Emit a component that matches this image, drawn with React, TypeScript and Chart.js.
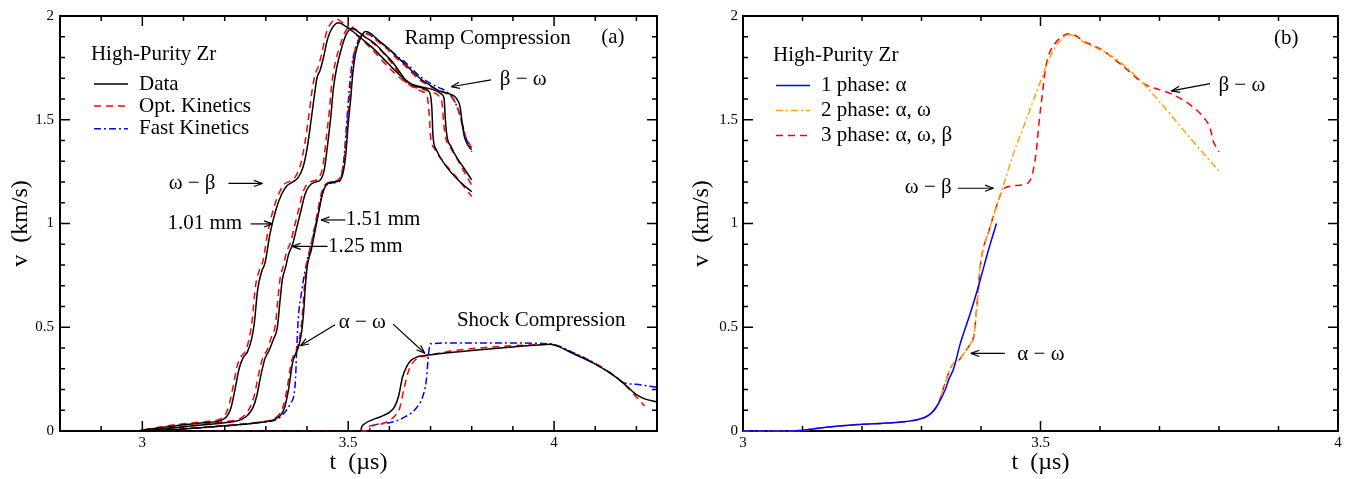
import React, { useEffect, useRef } from "react";
import { Chart, registerables } from "chart.js";
Chart.register(...registerables);

type P = [number, number];

// ---------- Panel (a): ramp + shock compression ----------
const ramp101Data: P[] = [[2.8,0],[2.98,0],[3.02,0.01],[3.06,0.02],[3.1,0.03],[3.15,0.04],[3.19,0.05],[3.205,0.07],[3.215,0.11],[3.225,0.2],[3.235,0.3],[3.245,0.355],[3.255,0.38],[3.265,0.44],[3.272,0.52],[3.28,0.68],[3.29,0.77],[3.298,0.81],[3.31,0.95],[3.325,1.07],[3.338,1.14],[3.35,1.18],[3.365,1.2],[3.378,1.22],[3.39,1.27],[3.4,1.36],[3.41,1.5],[3.418,1.62],[3.424,1.7],[3.432,1.74],[3.44,1.8],[3.45,1.89],[3.462,1.945],[3.477,1.968],[3.49,1.955],[3.505,1.935],[3.53,1.895],[3.56,1.845],[3.59,1.785],[3.62,1.725],[3.64,1.69],[3.66,1.665],[3.685,1.65],[3.698,1.63],[3.703,1.56],[3.706,1.42],[3.714,1.355],[3.739,1.273],[3.772,1.2],[3.8,1.153]];
const ramp101Opt: P[] = [[2.8,0],[2.98,0],[3.02,0.012],[3.06,0.025],[3.1,0.035],[3.15,0.045],[3.185,0.055],[3.2,0.075],[3.21,0.12],[3.22,0.21],[3.23,0.31],[3.24,0.36],[3.25,0.385],[3.26,0.45],[3.267,0.54],[3.275,0.7],[3.285,0.78],[3.293,0.82],[3.305,0.96],[3.32,1.08],[3.333,1.15],[3.345,1.19],[3.36,1.205],[3.373,1.23],[3.385,1.29],[3.395,1.39],[3.405,1.53],[3.413,1.65],[3.42,1.72],[3.428,1.76],[3.437,1.83],[3.447,1.92],[3.46,1.97],[3.472,1.985],[3.485,1.97],[3.5,1.945],[3.525,1.9],[3.555,1.845],[3.585,1.78],[3.615,1.72],[3.64,1.68],[3.66,1.655],[3.68,1.635],[3.692,1.61],[3.697,1.52],[3.7,1.42],[3.71,1.36],[3.73,1.3],[3.76,1.23],[3.8,1.13]];
const ramp125Data: P[] = [[2.8,0],[2.99,0],[3.05,0.01],[3.1,0.02],[3.15,0.03],[3.2,0.04],[3.24,0.055],[3.255,0.075],[3.268,0.11],[3.278,0.17],[3.287,0.26],[3.298,0.35],[3.307,0.385],[3.318,0.44],[3.328,0.5],[3.334,0.62],[3.34,0.73],[3.348,0.79],[3.355,0.85],[3.365,0.9],[3.375,0.98],[3.385,1.06],[3.395,1.14],[3.405,1.18],[3.42,1.2],[3.432,1.21],[3.442,1.26],[3.45,1.38],[3.458,1.52],[3.464,1.65],[3.472,1.75],[3.483,1.84],[3.495,1.91],[3.508,1.94],[3.52,1.93],[3.54,1.9],[3.566,1.865],[3.59,1.815],[3.607,1.78],[3.625,1.73],[3.64,1.69],[3.655,1.67],[3.673,1.66],[3.706,1.645],[3.726,1.625],[3.733,1.6],[3.736,1.5],[3.74,1.42],[3.75,1.37],[3.763,1.32],[3.78,1.27],[3.8,1.21]];
const ramp125Opt: P[] = [[2.8,0],[2.99,0],[3.05,0.012],[3.1,0.022],[3.15,0.032],[3.2,0.045],[3.235,0.058],[3.25,0.08],[3.263,0.12],[3.273,0.18],[3.282,0.27],[3.293,0.355],[3.303,0.39],[3.313,0.45],[3.323,0.51],[3.329,0.63],[3.335,0.74],[3.343,0.8],[3.35,0.86],[3.36,0.91],[3.37,0.99],[3.38,1.07],[3.39,1.15],[3.4,1.19],[3.415,1.205],[3.428,1.22],[3.438,1.27],[3.446,1.4],[3.454,1.54],[3.46,1.67],[3.468,1.77],[3.479,1.85],[3.492,1.92],[3.505,1.95],[3.518,1.935],[3.54,1.9],[3.566,1.86],[3.59,1.81],[3.607,1.77],[3.625,1.72],[3.64,1.68],[3.655,1.66],[3.673,1.65],[3.7,1.635],[3.72,1.615],[3.728,1.58],[3.732,1.48],[3.737,1.41],[3.75,1.36],[3.765,1.31],[3.78,1.255],[3.8,1.185]];
const ramp151Data: P[] = [[2.8,0],[3.0,0],[3.1,0.01],[3.2,0.025],[3.28,0.04],[3.32,0.055],[3.335,0.075],[3.345,0.11],[3.355,0.2],[3.365,0.33],[3.372,0.37],[3.38,0.41],[3.387,0.48],[3.392,0.58],[3.396,0.7],[3.401,0.8],[3.41,0.87],[3.418,0.95],[3.427,1.04],[3.436,1.13],[3.445,1.18],[3.46,1.2],[3.478,1.205],[3.487,1.24],[3.494,1.33],[3.5,1.48],[3.506,1.6],[3.511,1.72],[3.518,1.82],[3.528,1.885],[3.542,1.925],[3.555,1.915],[3.575,1.88],[3.6,1.84],[3.62,1.8],[3.64,1.765],[3.66,1.725],[3.68,1.69],[3.7,1.665],[3.72,1.64],[3.745,1.625],[3.762,1.605],[3.772,1.56],[3.777,1.48],[3.782,1.42],[3.79,1.38],[3.8,1.355]];
const ramp151Opt: P[] = [[2.8,0],[3.0,0],[3.1,0.012],[3.2,0.027],[3.28,0.042],[3.318,0.058],[3.332,0.08],[3.342,0.12],[3.352,0.21],[3.362,0.335],[3.37,0.375],[3.378,0.415],[3.385,0.49],[3.39,0.6],[3.394,0.71],[3.399,0.8],[3.408,0.88],[3.416,0.96],[3.425,1.05],[3.434,1.14],[3.443,1.185],[3.458,1.2],[3.476,1.21],[3.485,1.25],[3.492,1.34],[3.498,1.49],[3.504,1.62],[3.509,1.73],[3.516,1.83],[3.526,1.89],[3.54,1.915],[3.552,1.91],[3.57,1.88],[3.595,1.84],[3.615,1.8],[3.635,1.765],[3.655,1.725],[3.675,1.69],[3.695,1.665],[3.715,1.645],[3.74,1.625],[3.755,1.6],[3.765,1.56],[3.775,1.49],[3.785,1.42],[3.8,1.365]];
const ramp151Fast: P[] = [[2.8,0],[3.0,0],[3.1,0.01],[3.2,0.025],[3.28,0.04],[3.33,0.06],[3.35,0.1],[3.362,0.14],[3.368,0.17],[3.372,0.25],[3.375,0.4],[3.379,0.55],[3.386,0.66],[3.395,0.77],[3.405,0.86],[3.415,0.94],[3.425,1.03],[3.435,1.13],[3.443,1.18],[3.46,1.195],[3.475,1.2],[3.483,1.22],[3.49,1.32],[3.495,1.45],[3.5,1.58],[3.505,1.7],[3.512,1.8],[3.522,1.87],[3.535,1.91],[3.545,1.915],[3.56,1.9],[3.58,1.87],[3.6,1.84],[3.62,1.805],[3.64,1.775],[3.66,1.735],[3.68,1.7],[3.7,1.675],[3.72,1.655],[3.74,1.635],[3.755,1.6],[3.765,1.56],[3.775,1.5],[3.782,1.44],[3.79,1.39],[3.8,1.345]];
const shockData: P[] = [[2.8,0],[3.53,0],[3.533,0.02],[3.54,0.035],[3.56,0.055],[3.58,0.07],[3.6,0.09],[3.612,0.115],[3.622,0.165],[3.632,0.26],[3.642,0.31],[3.652,0.34],[3.665,0.355],[3.68,0.362],[3.72,0.372],[3.8,0.388],[3.9,0.405],[3.95,0.413],[3.99,0.418],[4.0,0.415],[4.05,0.37],[4.1,0.322],[4.15,0.26],[4.18,0.21],[4.2,0.175],[4.22,0.155],[4.25,0.14]];
const shockOpt: P[] = [[2.8,0],[3.545,0],[3.548,0.02],[3.57,0.03],[3.595,0.045],[3.612,0.07],[3.625,0.11],[3.635,0.2],[3.645,0.28],[3.655,0.325],[3.668,0.35],[3.69,0.362],[3.75,0.385],[3.85,0.405],[3.95,0.415],[3.99,0.418],[4.04,0.38],[4.09,0.335],[4.13,0.29],[4.16,0.245],[4.19,0.185],[4.22,0.12]];
const shockFast: P[] = [[2.8,0],[3.55,0],[3.555,0.02],[3.6,0.04],[3.64,0.07],[3.665,0.11],[3.68,0.16],[3.69,0.25],[3.695,0.37],[3.7,0.42],[3.75,0.424],[3.9,0.424],[3.99,0.42],[4.05,0.375],[4.1,0.325],[4.15,0.26],[4.17,0.232],[4.2,0.225],[4.25,0.21]];

// ---------- Panel (b): phase models ----------
const phase1: P[] = [[3.0,0],[3.08,0],[3.104,0.005],[3.14,0.018],[3.183,0.029],[3.241,0.038],[3.285,0.05],[3.305,0.065],[3.316,0.085],[3.328,0.13],[3.34,0.2],[3.346,0.25],[3.354,0.3],[3.365,0.42],[3.382,0.567],[3.397,0.71],[3.411,0.857],[3.426,1.0]];
const phase2: P[] = [[3.0,0],[3.08,0],[3.104,0.005],[3.14,0.018],[3.183,0.029],[3.241,0.038],[3.285,0.05],[3.305,0.065],[3.316,0.085],[3.328,0.13],[3.339,0.225],[3.35,0.31],[3.364,0.345],[3.375,0.39],[3.382,0.42],[3.388,0.46],[3.394,0.63],[3.399,0.8],[3.414,0.97],[3.428,1.1],[3.436,1.17],[3.455,1.34],[3.47,1.455],[3.485,1.57],[3.5,1.685],[3.512,1.775],[3.525,1.85],[3.538,1.895],[3.549,1.91],[3.575,1.87],[3.618,1.81],[3.662,1.706],[3.698,1.595],[3.749,1.42],[3.8,1.253]];
const phase3: P[] = [[3.0,0],[3.08,0],[3.104,0.005],[3.14,0.018],[3.183,0.029],[3.241,0.038],[3.285,0.05],[3.305,0.065],[3.316,0.085],[3.328,0.13],[3.339,0.225],[3.35,0.31],[3.364,0.345],[3.375,0.39],[3.382,0.42],[3.388,0.46],[3.394,0.63],[3.399,0.8],[3.414,0.97],[3.428,1.1],[3.436,1.16],[3.45,1.18],[3.475,1.19],[3.483,1.21],[3.488,1.26],[3.493,1.35],[3.498,1.5],[3.503,1.62],[3.508,1.74],[3.515,1.82],[3.525,1.87],[3.538,1.905],[3.549,1.915],[3.575,1.875],[3.604,1.835],[3.64,1.755],[3.676,1.67],[3.7,1.645],[3.72,1.625],[3.75,1.575],[3.776,1.505],[3.785,1.46],[3.79,1.4],[3.795,1.37],[3.8,1.345]];

// ---------- Ticks ----------
const xMajorA = [3, 3.5, 4];
const xLabelsA = ["3", "3.5", "4"];
const xMinorA = [2.9, 3.1, 3.2, 3.3, 3.4, 3.6, 3.7, 3.8, 3.9, 4.1, 4.2];
const xMajorB = [3, 3.5, 4];
const xLabelsB = ["3", "3.5", "4"];
const xMinorB = [3.1, 3.2, 3.3, 3.4, 3.6, 3.7, 3.8, 3.9];
const yMajor = [0, 0.5, 1, 1.5, 2];
const yLabels = ["0", "0.5", "1", "1.5", "2"];
const yMinor = [0.1, 0.2, 0.3, 0.4, 0.6, 0.7, 0.8, 0.9, 1.1, 1.2, 1.3, 1.4, 1.6, 1.7, 1.8, 1.9];

const SERIF = "'Liberation Serif', 'Times New Roman', serif";
const BLACK = "#000000";
const RED = "#ff0000";
const BLUE = "#0000ff";
const ORANGE = "#ffa500";
const DASH = [7, 5];
const DASHDOT = [7, 3, 2, 3];

type Series = { label: string; data: P[]; color: string; dash: number[] };
type Note = { text: string; t: number; v: number; align: CanvasTextAlign };
type Arrow = { from: P; to: P };
type LegendItem = { label: string; color: string; dash: number[] };

const seriesA: Series[] = [
  { label: "Data 1.01", data: ramp101Data, color: BLACK, dash: [] },
  { label: "Data 1.25", data: ramp125Data, color: BLACK, dash: [] },
  { label: "Data 1.51", data: ramp151Data, color: BLACK, dash: [] },
  { label: "Data shock", data: shockData, color: BLACK, dash: [] },
  { label: "Opt 1.01", data: ramp101Opt, color: RED, dash: DASH },
  { label: "Opt 1.25", data: ramp125Opt, color: RED, dash: DASH },
  { label: "Opt 1.51", data: ramp151Opt, color: RED, dash: DASH },
  { label: "Opt shock", data: shockOpt, color: RED, dash: DASH },
  { label: "Fast 1.51", data: ramp151Fast, color: BLUE, dash: DASHDOT },
  { label: "Fast shock", data: shockFast, color: BLUE, dash: DASHDOT },
];
const seriesB: Series[] = [
  { label: "1 phase: α", data: phase1, color: BLUE, dash: [] },
  { label: "2 phase: α, ω", data: phase2, color: ORANGE, dash: DASHDOT },
  { label: "3 phase: α, ω, β", data: phase3, color: RED, dash: DASH },
];

const legendA: LegendItem[] = [
  { label: "Data", color: BLACK, dash: [] },
  { label: "Opt. Kinetics", color: RED, dash: DASH },
  { label: "Fast Kinetics", color: BLUE, dash: DASHDOT },
];
const legendB: LegendItem[] = seriesB.map((s) => ({ label: s.label, color: s.color, dash: s.dash }));

const notesA: Note[] = [
  { text: "Ramp Compression", t: 3.637, v: 1.89, align: "left" },
  { text: "(a)", t: 4.143, v: 1.895, align: "center" },
  { text: "β − ω", t: 3.868, v: 1.695, align: "left" },
  { text: "ω − β", t: 3.064, v: 1.193, align: "left" },
  { text: "1.01 mm", t: 3.061, v: 1.0, align: "left" },
  { text: "1.51 mm", t: 3.494, v: 1.017, align: "left" },
  { text: "1.25 mm", t: 3.451, v: 0.89, align: "left" },
  { text: "α − ω", t: 3.477, v: 0.523, align: "left" },
  { text: "Shock Compression", t: 3.764, v: 0.531, align: "left" },
];
const arrowsA: Arrow[] = [
  { from: [3.847, 1.692], to: [3.75, 1.659] },
  { from: [3.209, 1.193], to: [3.2915, 1.193] },
  { from: [3.263, 0.998], to: [3.316, 0.998] },
  { from: [3.493, 1.017], to: [3.434, 1.017] },
  { from: [3.45, 0.89], to: [3.364, 0.89] },
  { from: [3.468, 0.512], to: [3.384, 0.411] },
  { from: [3.609, 0.515], to: [3.686, 0.375] },
];
const notesB: Note[] = [
  { text: "(b)", t: 3.913, v: 1.892, align: "center" },
  { text: "β − ω", t: 3.799, v: 1.666, align: "left" },
  { text: "ω − β", t: 3.272, v: 1.173, align: "left" },
  { text: "α − ω", t: 3.461, v: 0.37, align: "left" },
];
const arrowsB: Arrow[] = [
  { from: [3.785, 1.674], to: [3.72, 1.639] },
  { from: [3.361, 1.17], to: [3.421, 1.17] },
  { from: [3.44, 0.374], to: [3.383, 0.374] },
];

type PanelCfg = {
  series: Series[];
  xMin: number; xMax: number;
  xMajor: number[]; xLabels: string[]; xMinor: number[];
  yAxisWidth: number; yTitlePad: number; rightPad: number; yTickPad: number;
  legendTitle: { t: number; v: number };
  legend: LegendItem[];
  legendLine: [number, number]; legendTextT: number; legendRows: number[];
  notes: Note[]; arrows: Arrow[];
};

const panelA: PanelCfg = {
  series: seriesA, xMin: 2.8, xMax: 4.25,
  xMajor: xMajorA, xLabels: xLabelsA, xMinor: xMinorA,
  yAxisWidth: 60, yTitlePad: 6, rightPad: 23, yTickPad: 6,
  legendTitle: { t: 2.875, v: 1.815 },
  legend: legendA,
  legendLine: [2.8825, 2.965], legendTextT: 2.992, legendRows: [1.672, 1.566, 1.457],
  notes: notesA, arrows: arrowsA,
};
const panelB: PanelCfg = {
  series: seriesB, xMin: 3, xMax: 4,
  xMajor: xMajorB, xLabels: xLabelsB, xMinor: xMinorB,
  yAxisWidth: 63, yTitlePad: 7, rightPad: 8, yTickPad: 5,
  legendTitle: { t: 3.0504, v: 1.808 },
  legend: legendB,
  legendLine: [3.0555, 3.1126], legendTextT: 3.131, legendRows: [1.665, 1.545, 1.424],
  notes: notesB, arrows: arrowsB,
};

function decorPlugin(cfg: PanelCfg) {
  return {
    id: "decor",
    beforeDatasetsDraw(chart: any) {
      const { ctx, chartArea: a } = chart;
      const x = chart.scales.x;
      const y = chart.scales.y;
      const X = (t: number) => x.getPixelForValue(t);
      const Y = (v: number) => y.getPixelForValue(v);
      ctx.save();
      ctx.strokeStyle = "#000";
      ctx.setLineDash([]);
      ctx.lineWidth = 1.5;
      const seg = (x1: number, y1: number, x2: number, y2: number) => {
        ctx.beginPath(); ctx.moveTo(x1, y1); ctx.lineTo(x2, y2); ctx.stroke();
      };
      const xt = [...cfg.xMajor.map((v) => [v, 10]), ...cfg.xMinor.map((v) => [v, 5])];
      for (const [v, L] of xt) {
        const px = X(v);
        seg(px, a.bottom, px, a.bottom - L);
        seg(px, a.top, px, a.top + L);
      }
      const yt = [...yMajor.map((v) => [v, 10]), ...yMinor.map((v) => [v, 5])];
      for (const [v, L] of yt) {
        const py = Y(v);
        seg(a.left, py, a.left + L, py);
        seg(a.right, py, a.right - L, py);
      }
      ctx.lineWidth = 2;
      ctx.strokeRect(a.left, a.top, a.right - a.left, a.bottom - a.top);
      ctx.restore();
    },
    afterDraw(chart: any) {
      const { ctx } = chart;
      const x = chart.scales.x;
      const y = chart.scales.y;
      const X = (t: number) => x.getPixelForValue(t);
      const Y = (v: number) => y.getPixelForValue(v);
      ctx.save();
      const seg = (x1: number, y1: number, x2: number, y2: number) => {
        ctx.beginPath(); ctx.moveTo(x1, y1); ctx.lineTo(x2, y2); ctx.stroke();
      };
      // legend
      ctx.fillStyle = "#000";
      ctx.font = `21px ${SERIF}`;
      ctx.textBaseline = "middle";
      ctx.textAlign = "left";
      ctx.fillText("High-Purity Zr", X(cfg.legendTitle.t), Y(cfg.legendTitle.v));
      cfg.legend.forEach((it, i) => {
        const py = Y(cfg.legendRows[i]);
        ctx.save();
        ctx.strokeStyle = it.color;
        ctx.lineWidth = 1.5;
        ctx.setLineDash(it.dash);
        seg(X(cfg.legendLine[0]), py, X(cfg.legendLine[1]), py);
        ctx.restore();
        ctx.fillText(it.label, X(cfg.legendTextT), py);
      });

      // notes
      for (const n of cfg.notes) {
        ctx.textAlign = n.align;
        ctx.fillText(n.text, X(n.t), Y(n.v));
      }
      // arrows
      ctx.lineWidth = 1.2;
      ctx.strokeStyle = "#000";
      ctx.setLineDash([]);
      for (const ar of cfg.arrows) {
        const x1 = X(ar.from[0]), y1 = Y(ar.from[1]);
        const x2 = X(ar.to[0]), y2 = Y(ar.to[1]);
        seg(x1, y1, x2, y2);
        const ang = Math.atan2(y2 - y1, x2 - x1);
        const hl = 9, sp = 0.35;
        seg(x2, y2, x2 - hl * Math.cos(ang - sp), y2 - hl * Math.sin(ang - sp));
        seg(x2, y2, x2 - hl * Math.cos(ang + sp), y2 - hl * Math.sin(ang + sp));
      }
      ctx.restore();
    },
  };
}

function buildConfig(cfg: PanelCfg): any {
  return {
    type: "scatter",
    data: {
      datasets: cfg.series.map((s) => ({
        label: s.label,
        data: s.data.map(([t, v]) => ({ x: t, y: v })),
        showLine: true,
        borderColor: s.color,
        backgroundColor: s.color,
        borderWidth: 1.5,
        borderDash: s.dash,
        pointRadius: 0,
        pointHoverRadius: 0,
        cubicInterpolationMode: "monotone",
        fill: false,
        clip: { left: 0, right: 0, top: 0, bottom: 2 },
      })),
    },
    options: {
      animation: false,
      responsive: false,
      devicePixelRatio: 1,
      events: [],
      layout: { padding: { top: 16, right: cfg.rightPad, bottom: 0, left: 0 } },
      plugins: { legend: { display: false }, tooltip: { enabled: false }, title: { display: false } },
      scales: {
        x: {
          type: "linear",
          min: cfg.xMin,
          max: cfg.xMax,
          grid: { display: false, drawTicks: false },
          border: { display: false },
          afterBuildTicks: (s: any) => { s.ticks = cfg.xMajor.map((v) => ({ value: v })); },
          afterFit: (s: any) => { s.height = 48; },
          ticks: {
            autoSkip: false, maxRotation: 0, padding: 3, color: "#000",
            font: { family: SERIF, size: 15 },
            callback: (_v: any, i: number) => cfg.xLabels[i],
          },
          title: {
            display: true, text: "t  (µs)", color: "#000",
            font: { family: SERIF, size: 24 }, padding: { top: 0, bottom: 2 },
          },
        },
        y: {
          type: "linear",
          min: 0,
          max: 2,
          grid: { display: false, drawTicks: false },
          border: { display: false },
          afterBuildTicks: (s: any) => { s.ticks = yMajor.map((v) => ({ value: v })); },
          afterFit: (s: any) => { s.width = cfg.yAxisWidth; },
          ticks: {
            autoSkip: false, padding: cfg.yTickPad, color: "#000",
            font: { family: SERIF, size: 15 },
            callback: (_v: any, i: number) => yLabels[i],
          },
          title: {
            display: true, text: "v  (km/s)", color: "#000",
            font: { family: SERIF, size: 24 }, padding: { top: cfg.yTitlePad, bottom: 0 },
          },
        },
      },
    },
    plugins: [decorPlugin(cfg)],
  };
}

function Panel({ cfg, left, width }: { cfg: PanelCfg; left: number; width: number }) {
  const ref = useRef<HTMLCanvasElement | null>(null);
  useEffect(() => {
    if (!ref.current) return;
    const chart = new Chart(ref.current, buildConfig(cfg));
    return () => chart.destroy();
  }, [cfg]);
  return (
    <canvas
      ref={ref}
      width={width}
      height={479}
      style={{ position: "absolute", left, top: 0, width, height: 479, display: "block" }}
    />
  );
}

export default function App() {
  return (
    <div style={{ position: "absolute", left: 0, top: 0, width: 1346, height: 479, background: "#fff" }}>
      <Panel cfg={panelA} left={0} width={680} />
      <Panel cfg={panelB} left={680} width={666} />
    </div>
  );
}
